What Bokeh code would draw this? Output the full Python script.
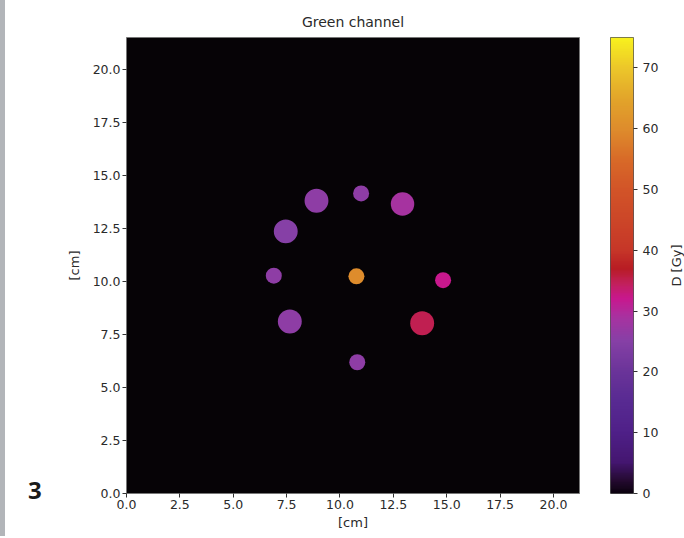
import numpy as np
from bokeh.plotting import figure
from bokeh.models import LinearColorMapper, FixedTicker, PrintfTickFormatter, ColumnDataSource, Div
from bokeh.layouts import row
from bokeh.embed import file_html
from bokeh.resources import INLINE
from bokeh.core.properties import value

# ---- data ----
x_cm = [8.90, 10.99, 12.93, 7.46, 6.90, 10.77, 14.83, 7.65, 13.85, 10.81]
y_cm = [13.80, 14.15, 13.65, 12.36, 10.27, 10.24, 10.06, 8.11, 8.03, 6.19]
radius_cm = [0.56, 0.375, 0.55, 0.56, 0.375, 0.375, 0.375, 0.56, 0.56, 0.375]
dose_gy = [26, 26, 29, 25, 26, 60, 32, 26, 35, 26]
tick_cm = [0.0, 2.5, 5.0, 7.5, 10.0, 12.5, 15.0, 17.5, 20.0]
tick_gy = [0, 10, 20, 30, 40, 50, 60, 70]
dose_max = 75
panel_label = "3"
cbar_label = "D [Gy]"

# ---- colour map resembling the reference colour bar ----
anchors = [(0, "#0c0210"), (2, "#240a30"), (5, "#441670"), (10, "#4f2088"),
           (15, "#582a92"), (20, "#6a3499"), (25, "#8640a6"), (29, "#a832a0"),
           (32, "#c8188e"), (34.5, "#c2205c"), (37, "#b81c24"), (40, "#c63628"),
           (45, "#cc4628"), (50, "#d25428"), (55, "#d86a28"), (60, "#de8c2c"),
           (65, "#e2a42a"), (70, "#ecc62a"), (75, "#f8f01e")]

def _rgb(h):
    return [int(h[i:i + 2], 16) for i in (1, 3, 5)]

pos = np.array([a[0] for a in anchors]) / dose_max
cols = np.array([_rgb(a[1]) for a in anchors], dtype=float)
t = np.linspace(0, 1, 256)
palette = []
for v in t:
    rgb = [int(round(np.interp(v, pos, cols[:, k]))) for k in range(3)]
    palette.append("#%02x%02x%02x" % tuple(rgb))

mapper = LinearColorMapper(palette=palette, low=0, high=dose_max)

FONT = "DejaVu Sans"
TXT = "#2a2a2a"
H = 536

# ---- left strip with panel number ----
left_html = (
    '<div style="position:absolute;left:0;top:0;width:5px;height:%dpx;background:#b2b5b9"></div>'
    '<div style="position:absolute;left:28px;top:474px;font-family:\'Open Sans\',sans-serif;'
    'font-weight:bold;font-size:24px;line-height:32px;color:#1a1a1a">%s</div>' % (H, panel_label)
)
left = Div(text=left_html, width=60, height=H, styles={"position": "relative", "margin": "0"})

# ---- main image ----
p = figure(frame_width=453, frame_height=456, x_range=(0, 21.22), y_range=(0, 21.5),
           min_border_left=66, min_border_right=10, min_border_top=37, min_border_bottom=43,
           output_backend="svg", toolbar_location=None, title="Green channel")
p.title.align = "center"
p.title.text_font = FONT
p.title.text_font_size = "14px"
p.title.text_font_style = "normal"
p.title.text_color = TXT
p.title.standoff = 16
p.background_fill_color = "#060306"
p.border_fill_color = "white"
p.outline_line_color = "#777777"
p.grid.visible = False

src = ColumnDataSource(dict(x=x_cm, y=y_cm, r=radius_cm, d=dose_gy))
p.circle("x", "y", radius="r", source=src, line_color=None,
         fill_color={"field": "d", "transform": mapper})

for ax in (p.xaxis[0], p.yaxis[0]):
    ax.ticker = FixedTicker(ticks=tick_cm)
    ax.formatter = PrintfTickFormatter(format="%.1f")
    ax.minor_tick_line_color = None
    ax.major_tick_in = 0
    ax.major_tick_out = 4
    ax.major_label_text_font = FONT
    ax.major_label_text_font_size = "12.5px"
    ax.major_label_text_color = TXT
    ax.axis_label = "[cm]"
    ax.axis_label_text_font = FONT
    ax.axis_label_text_font_size = "13px"
    ax.axis_label_text_font_style = "normal"
    ax.axis_label_text_color = TXT
    ax.axis_line_color = None
    ax.major_tick_line_color = "#333333"
p.xaxis.major_label_standoff = 2
p.xaxis.axis_label_standoff = 3
p.yaxis.major_label_standoff = 2
p.yaxis.axis_label_standoff = 8

# ---- colour bar ----
cb = figure(frame_width=23, frame_height=456, x_range=(0, 1), y_range=(0, dose_max),
            min_border_left=21, min_border_right=25, min_border_top=37, min_border_bottom=43,
            output_backend="svg", toolbar_location=None, y_axis_location="right")
grad = np.linspace(0, dose_max, 512).reshape(-1, 1)
cb.image(image=[grad], x=0, y=0, dw=1, dh=dose_max, color_mapper=mapper)
cb.xaxis.visible = False
cb.grid.visible = False
cb.outline_line_color = "#555555"
cb.border_fill_color = "white"
ay = cb.yaxis[0]
ay.ticker = FixedTicker(ticks=tick_gy)
ay.minor_tick_line_color = None
ay.major_tick_in = 0
ay.major_tick_out = 4
ay.axis_line_color = None
ay.major_tick_line_color = "#333333"
ay.major_label_text_font = FONT
ay.major_label_text_font_size = "12.5px"
ay.major_label_text_color = TXT
ay.major_label_standoff = 5

# ---- colour bar label (reads bottom to top) ----
# frame of this strip is aligned with the main frame (page y 37..493), so data y = 538 - page y
lab = figure(width=26, height=H, x_range=(0, 26), y_range=(45, 501),
             min_border_left=0, min_border_right=0, min_border_top=37, min_border_bottom=43,
             x_axis_location=None, y_axis_location=None,
             output_backend="svg", toolbar_location=None)
lab.grid.visible = False
lab.outline_line_color = None
lab.text(x=[15], y=[273], text=[cbar_label], angle=np.pi / 2,
         text_align="center", text_baseline="middle",
         text_font=value(FONT), text_font_size="13px", text_color=TXT)

layout = row(left, p, cb, lab)
open("out.html", "w").write(file_html(layout, INLINE))
